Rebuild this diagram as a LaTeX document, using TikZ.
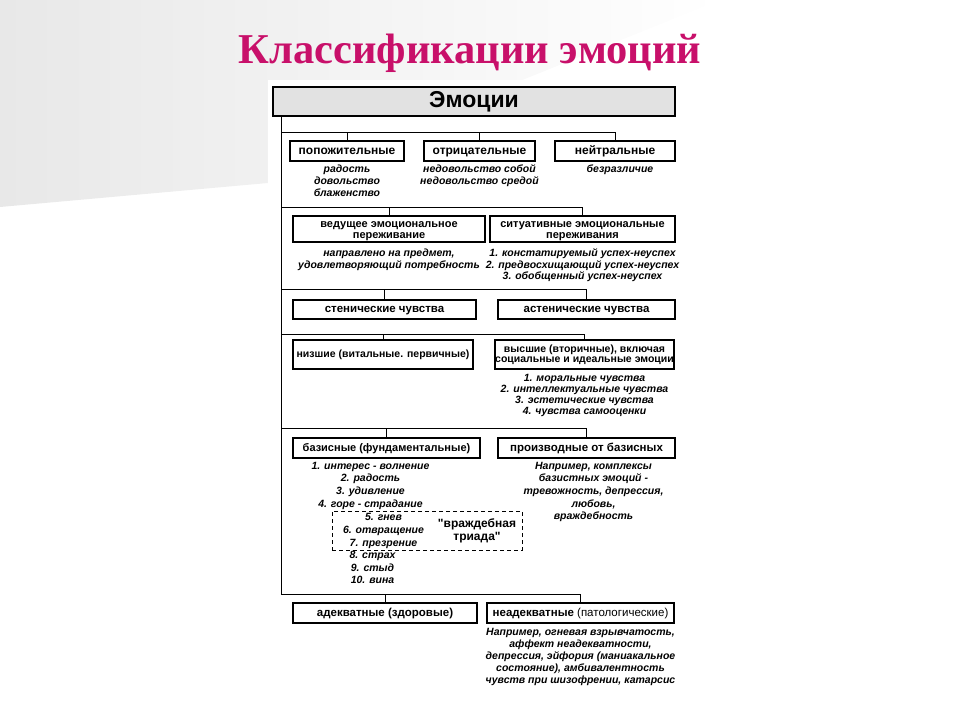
\documentclass[tikz,border=0pt]{standalone}
\usepackage{fontspec}
\setmainfont{Liberation Sans}
\newfontfamily\titlefont{Liberation Serif}
\newfontfamily\plainsans{Liberation Sans}
\usepackage{tikz}
\usetikzlibrary{positioning}

\definecolor{titlered}{RGB}{200,16,106}
\definecolor{slidegray}{RGB}{232,232,232}
\definecolor{headgray}{RGB}{226,226,226}

\begin{document}
\begin{tikzpicture}[x=1pt, y=-1pt,
  kind/.style={rectangle, draw, line width=1.4pt, fill=white, align=center, inner sep=0pt,
    font=\bfseries\fontsize{11.5}{12}\selectfont},
  one/.style={text height=8.5pt, text depth=2.5pt},
  two/.style={font=\bfseries\fontsize{11}{10.5}\selectfont, text height=18.5pt, text depth=0pt},
  note/.style={align=center, inner sep=0pt, font=\bfseries\itshape\fontsize{10.5}{12}\selectfont},
  link/.style={line width=1pt}
]
  % slide background
  \useasboundingbox (0,0) rectangle (960,720);
  \shade[left color=slidegray, right color=white] (0,0) -- (720,0) -- (268,183) -- (0,207) -- cycle;
  \fill[white] (268,80) rectangle (690,700);

  \node[text=titlered, font=\titlefont\bfseries\fontsize{42.5}{48}\selectfont, anchor=base] (title) at (470,63) {Классификации эмоций};

  \node[kind, fill=headgray, minimum width=402, minimum height=29, font=\bfseries\fontsize{23}{25}\selectfont] (emo) at (474,101.5) {Эмоции};

  % trunk and branch points
  \coordinate (trunktop) at (281,116);
  \coordinate (trunkend) at (281,594);
  \coordinate (br1) at (281,132);
  \coordinate (br2) at (281,207);
  \coordinate (br3) at (281,289);
  \coordinate (br4) at (281,334);
  \coordinate (br5) at (281,428);
  \coordinate (br6) at (281,594);

  % sign
  \node[kind, one, font=\bfseries\fontsize{12}{12}\selectfont, minimum width=114, minimum height=20] (pos) at (347,151) {попожительные};
  \node[kind, one, font=\bfseries\fontsize{12}{12}\selectfont, minimum width=111, minimum height=20] (neg) at (479.5,151) {отрицательные};
  \node[kind, one, font=\bfseries\fontsize{12}{12}\selectfont, minimum width=120, minimum height=20] (neu) at (615,151) {нейтральные};
  \node[note, below=3pt of pos] (posl) {радость\\довольство\\блаженство};
  \node[note, below=3pt of neg] (negl) {недовольство собой\\недовольство средой};
  \node[note, below=3pt of neu, xshift=5pt] (neul) {безразличие};

  % object
  \node[kind, two, minimum width=192, minimum height=26] (lead) at (389,229) {ведущее эмоциональное\\переживание};
  \node[kind, two, minimum width=185, minimum height=26] (sit) at (582.5,229) {ситуативные эмоциональные\\переживания};
  \node[note, below=6pt of lead] (leadl) {направлено на предмет,\\удовлетворяющий потребность};
  \node[note, below=6pt of sit, font=\bfseries\itshape\fontsize{10.5}{11.5}\selectfont] (sitl) {1. констатируемый успех-неуспех\\2. предвосхищающий успех-неуспех\\3. обобщенный успех-неуспех};

  % activity
  \node[kind, one, minimum width=183, minimum height=19] (sthen) at (384.5,309.5) {стенические чувства};
  \node[kind, one, minimum width=177, minimum height=19] (asthen) at (586.5,309.5) {астенические чувства};

  % level
  \node[kind, one, minimum width=180, minimum height=29, font=\bfseries\fontsize{10.5}{12}\selectfont] (low) at (383,354.5) {низшие (витальные. первичные)};
  \node[kind, minimum width=179, minimum height=29, font=\bfseries\fontsize{10.5}{10.5}\selectfont] (high) at (584.5,354.5) {высшие (вторичные), включая\\социальные и идеальные эмоции};
  \node[note, below=4pt of high, font=\bfseries\itshape\fontsize{10.5}{11}\selectfont] (highl) {1. моральные чувства\\2. интеллектуальные чувства\\3. эстетические чувства\\4. чувства самооценки};

  % origin
  \node[kind, one, minimum width=187, minimum height=20, font=\bfseries\fontsize{11}{12}\selectfont] (basic) at (386.5,448) {базисные (фундаментальные)};
  \node[kind, one, minimum width=177, minimum height=20] (deriv) at (586.5,448) {производные от базисных};
  \node[note, below=3pt of basic, xshift=-16pt, font=\bfseries\itshape\fontsize{10.5}{12.8}\selectfont] (basicl)
    {1. интерес - волнение\\2. радость\\3. удивление\\4. горе - страдание};
  \node[note, below=3.5pt of basicl, xshift=13pt, font=\bfseries\itshape\fontsize{10.5}{12.8}\selectfont] (basicm)
    {5. гнев\\6. отвращение\\7. презрение};
  \node[note, below=2pt of basicm, xshift=-11pt, font=\bfseries\itshape\fontsize{10.5}{12.8}\selectfont] (basicb)
    {8. страх\\9. стыд\\10. вина};
  \node[note, below=3pt of deriv, xshift=7pt, font=\bfseries\itshape\fontsize{10.5}{12.7}\selectfont] (derivl)
    {Например, комплексы\\базистных эмоций -\\тревожность, депрессия,\\любовь,\\враждебность};
  \node[draw, dashed, dash pattern=on 4pt off 3pt, line width=0.9pt, minimum width=190, minimum height=39] (triad) at (427,530.5) {};
  \node[align=center, inner sep=0pt, font=\plainsans\bfseries\fontsize{12}{13}\selectfont] (triadl) at (477,531) {"враждебная\\триада"};

  % norm
  \node[kind, one, minimum width=184, minimum height=20] (adeq) at (385,613) {адекватные (здоровые)};
  \node[kind, one, minimum width=187, minimum height=20] (inadeq) at (580.5,613) {неадекватные \mdseries(патологические)};
  \node[note, below=4pt of inadeq] (inadeql) {Например, огневая взрывчатость,\\аффект неадекватности,\\депрессия, эйфория (маниакальное\\состояние), амбивалентность\\чувств при шизофрении, катарсис};

  % connectors
  \draw[link] (trunktop) -- (trunkend);
  \draw[link] (br1) -| (neu.north);
  \draw[link] (br1 -| pos.north) -- (pos.north);
  \draw[link] (br1 -| neg.north) -- (neg.north);
  \foreach \br/\l/\r in {br2/lead/sit, br3/sthen/asthen, br4/low/high, br5/basic/deriv, br6/adeq/inadeq}{
    \draw[link] (\br) -| (\r.north);
    \draw[link] (\br -| \l.north) -- (\l.north);
  }
\end{tikzpicture}
\end{document}
